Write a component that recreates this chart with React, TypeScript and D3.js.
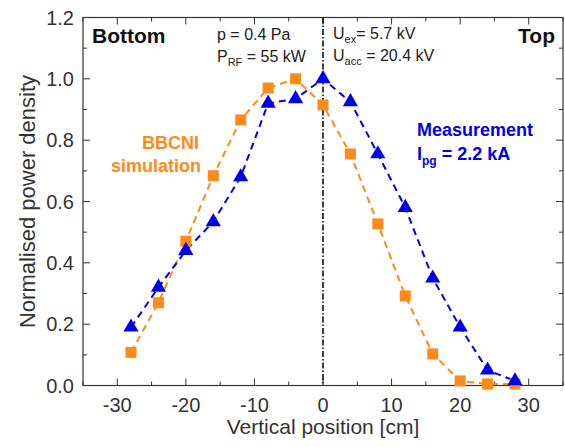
import React from "react";
import * as d3 from "d3";

const positions = [-28, -24, -20, -16, -12, -8, -4, 0, 4, 8, 12, 16, 20, 24, 28];
const simulation = [0.108, 0.27, 0.47, 0.684, 0.866, 0.97, 1.0, 0.915, 0.755, 0.527, 0.292, 0.103, 0.015, 0.005, 0.005];
const measurement = [0.19, 0.32, 0.44, 0.534, 0.68, 0.92, 0.935, 1.0, 0.925, 0.755, 0.58, 0.35, 0.19, 0.05, 0.015];
const xTicks = [-30, -20, -10, 0, 10, 20, 30];
const xMinor = [-35, -25, -15, -5, 5, 15, 25, 35];
const yTicks = [0, 0.2, 0.4, 0.6, 0.8, 1.0, 1.2];
const yMinor = [0.1, 0.3, 0.5, 0.7, 0.9, 1.1];

const ORANGE = "#ff8a1a";
const BLUE = "#0000e6";
const FONT = "Liberation Sans, Arial, sans-serif";

export default function App() {
  const left = 83, right = 563, top = 17.5, bottom = 385.5;
  const x = d3.scaleLinear().domain([-35, 35]).range([left, right]);
  const y = d3.scaleLinear().domain([0, 1.2]).range([bottom, top]);
  const line = d3.line<number>().x((_, i) => x(positions[i])).y((v) => y(v));
  const tri = d3.symbol().type(d3.symbolTriangle).size(100)();
  const sq = 11;

  return (
    <svg width={565} height={447} style={{ position: "absolute", left: 0, top: 0, background: "#fff" }} fontFamily={FONT}>
      {/* ticks */}
      {xTicks.map((t) => (
        <g key={"xt" + t}>
          <line x1={x(t)} x2={x(t)} y1={bottom} y2={bottom - 7} stroke="#333" strokeWidth={1} />
          <line x1={x(t)} x2={x(t)} y1={top} y2={top + 7} stroke="#333" strokeWidth={1} />
          <text x={x(t)} y={bottom + 26} textAnchor="middle" fontSize={20} fill="#333">{t}</text>
        </g>
      ))}
      {xMinor.map((t) => (
        <g key={"xm" + t}>
          <line x1={x(t)} x2={x(t)} y1={bottom} y2={bottom - 4} stroke="#333" strokeWidth={1} />
          <line x1={x(t)} x2={x(t)} y1={top} y2={top + 4} stroke="#333" strokeWidth={1} />
        </g>
      ))}
      {yTicks.map((t) => (
        <g key={"yt" + t}>
          <line x1={left} x2={left + 7} y1={y(t)} y2={y(t)} stroke="#333" strokeWidth={1} />
          <line x1={right} x2={right - 7} y1={y(t)} y2={y(t)} stroke="#333" strokeWidth={1} />
          <text x={left - 9} y={y(t) + 7} textAnchor="end" fontSize={20} fill="#333">{t.toFixed(1)}</text>
        </g>
      ))}
      {yMinor.map((t) => (
        <g key={"ym" + t}>
          <line x1={left} x2={left + 4} y1={y(t)} y2={y(t)} stroke="#333" strokeWidth={1} />
          <line x1={right} x2={right - 4} y1={y(t)} y2={y(t)} stroke="#333" strokeWidth={1} />
        </g>
      ))}
      <rect x={left} y={top} width={right - left} height={bottom - top} fill="none" stroke="#333" strokeWidth={1.2} />

      {/* zero line */}
      <line x1={x(0)} x2={x(0)} y1={top} y2={bottom} stroke="#000" strokeWidth={1.5} strokeDasharray="6,2,1.5,2" />

      {/* series lines */}
      <path d={line(simulation) || ""} fill="none" stroke={ORANGE} strokeWidth={2} strokeDasharray="7,5" />
      <path d={line(measurement) || ""} fill="none" stroke={BLUE} strokeWidth={2} strokeDasharray="7,5" />

      {simulation.map((v, i) => (
        <rect key={"s" + i} x={x(positions[i]) - sq / 2} y={y(v) - sq / 2} width={sq} height={sq} fill={ORANGE} />
      ))}
      {measurement.map((v, i) => (
        <path key={"m" + i} d={tri || ""} transform={`translate(${x(positions[i])},${y(v)})`} fill={BLUE} />
      ))}

      {/* annotations */}
      <text x={92} y={43} fontSize={21} fontWeight="bold" fill="#111">Bottom</text>
      <text x={555} y={43} fontSize={21} fontWeight="bold" fill="#111" textAnchor="end">Top</text>
      <text x={217} y={40} fontSize={16} fill="#222">p = 0.4 Pa</text>
      <text x={217} y={62} fontSize={16} fill="#222">P<tspan fontSize={11} dy={4}>RF</tspan><tspan dy={-4}> = 55 kW</tspan></text>
      <text x={333} y={39} fontSize={16} fill="#222">U<tspan fontSize={11} dy={4}>ex</tspan><tspan dy={-4}>= 5.7 kV</tspan></text>
      <text x={333} y={61} fontSize={16} fill="#222">U<tspan fontSize={11} dy={4}>acc</tspan><tspan dy={-4}> =  20.4 kV</tspan></text>

      <text x={142} y={149} fontSize={18} fontWeight="bold" fill={ORANGE}>BBCNI</text>
      <text x={111} y={172} fontSize={18} fontWeight="bold" fill={ORANGE}>simulation</text>
      <text x={417} y={136} fontSize={18} fontWeight="bold" fill={BLUE}>Measurement</text>
      <text x={417} y={160} fontSize={18} fontWeight="bold" fill={BLUE}>I<tspan fontSize={12} dy={5}>pg</tspan><tspan dy={-5}> = 2.2 kA</tspan></text>

      {/* axis titles */}
      <text x={x(0)} y={434} textAnchor="middle" fontSize={21} fill="#333">Vertical position [cm]</text>
      <text transform={`translate(35,${(top + bottom) / 2}) rotate(-90)`} textAnchor="middle" fontSize={22} fill="#333">Normalised power density</text>
    </svg>
  );
}
